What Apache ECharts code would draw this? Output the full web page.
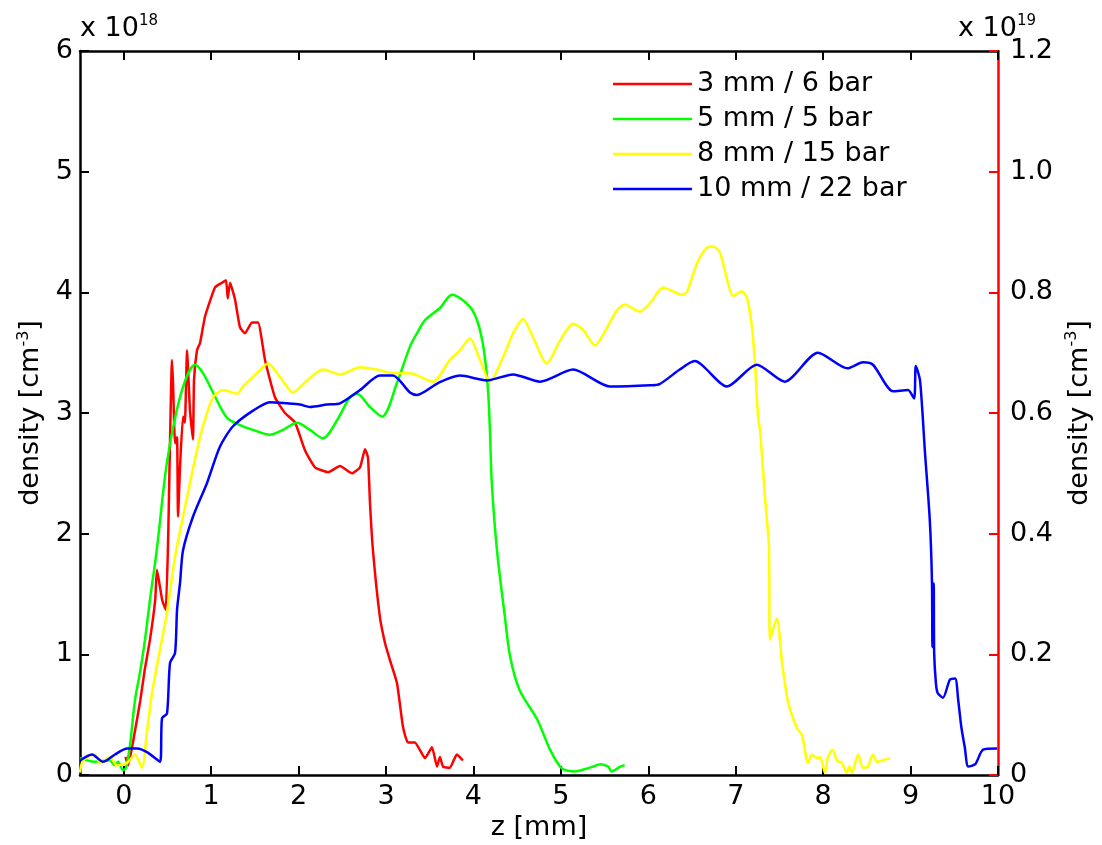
<!DOCTYPE html>
<html><head><meta charset="utf-8">
<script src="https://cdn.jsdelivr.net/npm/echarts@6/dist/echarts.min.js"></script>
<style>html,body{margin:0;padding:0;background:#fff}#c{width:1102px;height:845px}</style>
</head><body><div id="c"></div>
<script>
const FONT = 'DejaVu Sans';
const seriesNames = ['3 mm / 6 bar', '5 mm / 5 bar', '8 mm / 15 bar', '10 mm / 22 bar'];
const xTicks = [0, 1, 2, 3, 4, 5, 6, 7, 8, 9, 10];

// 3 mm / 6 bar  (right axis, x 10^19 cm^-3)
const redZ = [0.02,0.05,0.13,0.19,0.24,0.30,0.36,0.38,0.44,0.48,0.507,0.552,0.564,0.587,0.61,0.621,0.644,0.678,0.70,0.724,0.758,0.792,0.804,0.838,0.873,0.93,1.044,1.124,1.17,1.19,1.216,1.273,1.33,1.387,1.467,1.536,1.616,1.73,1.845,1.96,2.074,2.188,2.337,2.474,2.611,2.703,2.76,2.794,2.817,2.851,2.93,2.99,3.046,3.126,3.194,3.25,3.33,3.446,3.526,3.583,3.617,3.652,3.73,3.81,3.88];
const redN = [0.03,0.016,0.074,0.124,0.174,0.224,0.29,0.34,0.29,0.274,0.384,0.688,0.65,0.55,0.56,0.428,0.51,0.594,0.584,0.704,0.604,0.556,0.654,0.704,0.716,0.76,0.808,0.816,0.82,0.79,0.816,0.788,0.742,0.732,0.75,0.75,0.688,0.626,0.60,0.584,0.538,0.51,0.502,0.512,0.50,0.51,0.54,0.526,0.45,0.372,0.262,0.218,0.19,0.152,0.08,0.054,0.054,0.028,0.046,0.014,0.03,0.014,0.012,0.034,0.024];

// 5 mm / 5 bar  (left axis, x 10^18 cm^-3)
const greenZ = [-0.5,-0.33,-0.16,-0.10,-0.065,-0.008,0.026,0.072,0.129,0.186,0.243,0.30,0.377,0.492,0.606,0.72,0.815,0.907,1.021,1.181,1.33,1.479,1.673,1.822,1.982,2.13,2.279,2.44,2.588,2.668,2.817,2.954,3.126,3.274,3.354,3.446,3.617,3.755,3.96,4.05,4.12,4.167,4.19,4.21,4.27,4.36,4.42,4.53,4.73,4.876,4.99,5.05,5.16,5.28,5.37,5.45,5.54,5.58,5.68,5.73];
const greenN = [0.14,0.11,0.12,0.08,0.11,0.04,0.06,0.25,0.62,0.85,1.12,1.45,1.86,2.58,3.02,3.30,3.40,3.33,3.17,2.96,2.90,2.86,2.82,2.86,2.92,2.86,2.79,2.94,3.13,3.16,3.05,2.97,3.25,3.55,3.66,3.77,3.87,3.98,3.88,3.75,3.52,3.19,2.83,2.42,1.86,1.31,0.98,0.70,0.46,0.21,0.07,0.04,0.03,0.05,0.07,0.09,0.07,0.03,0.07,0.08];

// 8 mm / 15 bar
const yellowZ = [-0.5,-0.466,-0.33,-0.27,-0.157,-0.077,0.038,0.129,0.209,0.266,0.324,0.415,0.495,0.587,0.724,0.873,1.021,1.136,1.296,1.364,1.524,1.65,1.787,1.936,2.096,2.279,2.474,2.703,2.897,3.08,3.274,3.537,3.73,3.846,3.96,4.075,4.19,4.338,4.453,4.567,4.68,4.84,4.99,5.14,5.253,5.39,5.53,5.64,5.73,5.90,6.02,6.17,6.385,6.44,6.557,6.67,6.74,6.82,6.91,6.97,7.07,7.13,7.186,7.22,7.255,7.278,7.335,7.38,7.392,7.47,7.53,7.60,7.70,7.758,7.827,7.873,7.93,7.964,8.02,8.055,8.11,8.157,8.214,8.27,8.30,8.33,8.40,8.456,8.513,8.57,8.616,8.673,8.765];
const yellowN = [0.02,0.12,0.17,0.10,0.15,0.08,0.10,0.17,0.06,0.36,0.68,1.04,1.34,1.81,2.30,2.80,3.13,3.19,3.16,3.22,3.33,3.41,3.30,3.17,3.27,3.36,3.32,3.38,3.36,3.33,3.33,3.26,3.44,3.52,3.62,3.44,3.26,3.46,3.66,3.78,3.63,3.41,3.60,3.74,3.69,3.56,3.71,3.85,3.90,3.84,3.91,4.04,3.98,4.00,4.24,4.37,4.38,4.33,4.08,3.97,4.01,3.95,3.71,3.41,2.97,2.86,2.30,1.89,1.12,1.30,0.93,0.60,0.39,0.33,0.10,0.17,0.14,0.15,0.02,0.15,0.21,0.12,0.10,0.02,0.07,0.02,0.17,0.06,0.07,0.17,0.11,0.12,0.14];

// 10 mm / 22 bar
const blueZ = [-0.5,-0.363,-0.237,-0.10,0.038,0.152,0.266,0.415,0.438,0.495,0.53,0.587,0.61,0.644,0.678,0.792,0.953,1.10,1.25,1.479,1.673,1.868,2.016,2.13,2.325,2.474,2.703,2.93,3.08,3.274,3.354,3.6,3.846,4.155,4.453,4.76,5.14,5.56,6.02,6.13,6.36,6.53,6.90,7.24,7.56,7.94,8.28,8.456,8.57,8.80,8.97,9.04,9.06,9.108,9.165,9.22,9.245,9.25,9.265,9.27,9.29,9.31,9.37,9.45,9.51,9.545,9.58,9.62,9.66,9.74,9.83,9.99];
const blueN = [0.12,0.17,0.11,0.17,0.22,0.22,0.19,0.11,0.47,0.51,0.93,1.01,1.37,1.59,1.86,2.14,2.42,2.72,2.89,3.02,3.09,3.08,3.07,3.05,3.07,3.08,3.19,3.31,3.31,3.17,3.15,3.25,3.31,3.27,3.32,3.26,3.36,3.22,3.23,3.24,3.36,3.43,3.22,3.40,3.26,3.50,3.37,3.42,3.40,3.18,3.19,3.12,3.39,3.27,2.67,2.11,1.59,1.06,1.59,1.01,0.76,0.68,0.64,0.79,0.80,0.62,0.40,0.23,0.07,0.09,0.21,0.22];

const zip = (a, b) => a.map((v, i) => [v, b[i]]);

const chart = echarts.init(document.getElementById('c'), null, {renderer: 'canvas'});
const axisLineBlack = {show: true, onZero: false, lineStyle: {color: '#000', width: 2.5}};
const tickBlack = {show: true, inside: true, length: 9, lineStyle: {color: '#000', width: 2}};
const nameRich = {
  n: {fontFamily: FONT, fontSize: 27, color: '#000', lineHeight: 32},
  s: {fontFamily: FONT, fontSize: 16, color: '#000', lineHeight: 18, verticalAlign: 'top'}
};
const supRich = {
  a: {fontFamily: FONT, fontSize: 27, color: '#000', lineHeight: 30},
  b: {fontFamily: FONT, fontSize: 15, color: '#000', lineHeight: 16, verticalAlign: 'top'}
};
const lineSeries = (i, color, yIdx, data, smooth) => ({
  name: seriesNames[i], type: 'line', xAxisIndex: 0, yAxisIndex: yIdx, data: data,
  showSymbol: false, smooth: smooth,
  lineStyle: {color: color, width: 2.5}, itemStyle: {color: color}
});

const option = {
  animation: false,
  backgroundColor: '#fff',
  grid: {left: 80, right: 104, top: 51, bottom: 70, containLabel: false, outerBoundsMode: 'none'},
  legend: {
    orient: 'vertical', left: 613, top: 69, padding: 0, itemGap: 5,
    itemWidth: 79, itemHeight: 2.5, icon: 'rect',
    data: seriesNames,
    textStyle: {fontFamily: FONT, fontSize: 27, color: '#000', lineHeight: 30}
  },
  xAxis: [
    {
      type: 'value', min: -0.5, max: 10, position: 'bottom',
      name: 'z [mm]', nameLocation: 'middle', nameGap: 35,
      nameTextStyle: {fontFamily: FONT, fontSize: 27, color: '#000'},
      axisLine: axisLineBlack,
      axisTick: Object.assign({customValues: xTicks}, tickBlack),
      axisLabel: {customValues: xTicks, fontFamily: FONT, fontSize: 27, color: '#000', margin: 8},
      splitLine: {show: false}
    },
    {
      type: 'value', min: -0.5, max: 10, position: 'top',
      axisLine: axisLineBlack,
      axisTick: Object.assign({customValues: xTicks}, tickBlack),
      axisLabel: {show: false},
      splitLine: {show: false}
    }
  ],
  yAxis: [
    {
      type: 'value', min: 0, max: 6, interval: 1, position: 'left',
      name: '{n|density [cm}{s|-3}{n|]}', nameLocation: 'middle', nameGap: 26,
      nameTextStyle: {rich: nameRich},
      axisLine: axisLineBlack,
      axisTick: tickBlack,
      axisLabel: {fontFamily: FONT, fontSize: 27, color: '#000', margin: 7, showMinLabel: true, showMaxLabel: true},
      splitLine: {show: false}
    },
    {
      type: 'value', min: 0, max: 1.2, interval: 0.2, position: 'right',
      name: '{n|density [cm}{s|-3}{n|]}', nameLocation: 'middle', nameGap: 66, nameRotate: 90,
      nameTextStyle: {rich: nameRich},
      axisLine: {show: true, onZero: false, lineStyle: {color: '#ff0000', width: 2.5}},
      axisTick: {show: true, inside: true, length: 9, lineStyle: {color: '#ff0000', width: 2}},
      axisLabel: {fontFamily: FONT, fontSize: 27, color: '#000', margin: 12, showMinLabel: true, showMaxLabel: true,
        formatter: v => (v === 0 ? '0' : v.toFixed(1))},
      splitLine: {show: false}
    }
  ],
  graphic: [
    {type: 'text', left: 80, top: 14, style: {text: '{a|x 10}{b|18}', rich: supRich}},
    {type: 'text', left: 958, top: 14, style: {text: '{a|x 10}{b|19}', rich: supRich}}
  ],
  series: [
    lineSeries(0, '#ff0000', 1, zip(redZ, redN), 0.15),
    lineSeries(1, '#00ff00', 0, zip(greenZ, greenN), 0.3),
    lineSeries(2, '#ffff00', 0, zip(yellowZ, yellowN), 0.25),
    lineSeries(3, '#0000ff', 0, zip(blueZ, blueN), 0.25)
  ]
};
chart.setOption(option);
</script>
</body></html>
